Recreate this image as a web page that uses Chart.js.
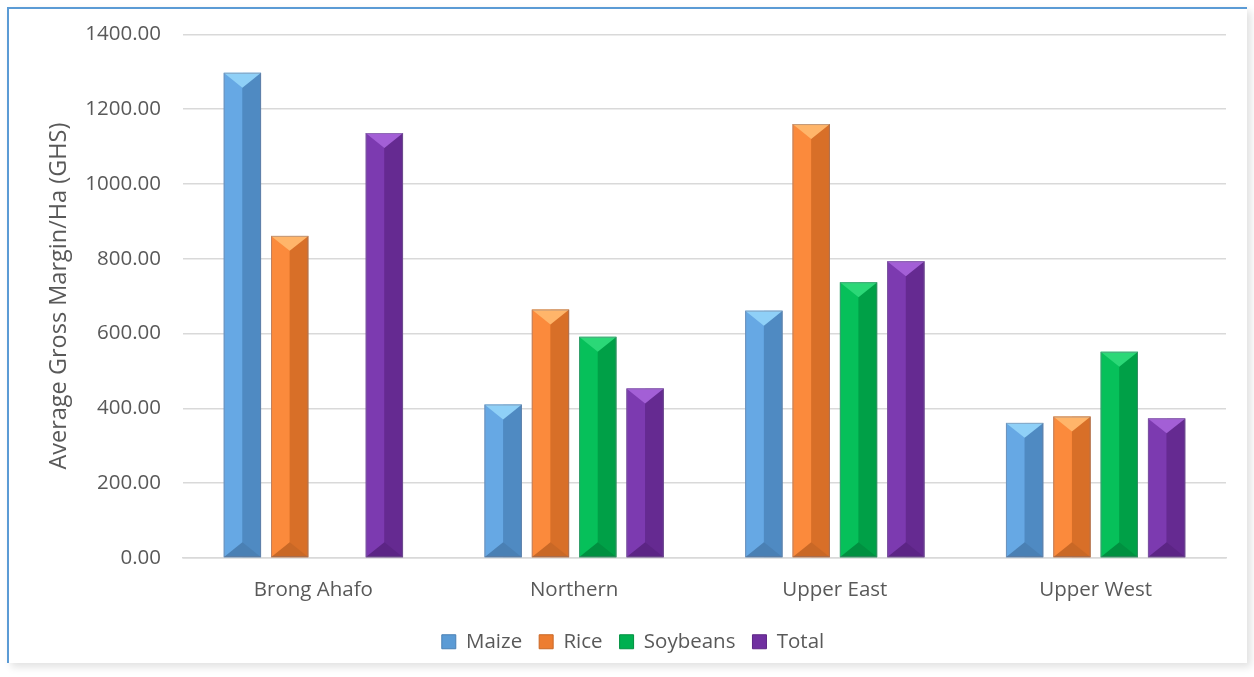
<!DOCTYPE html>
<html>
<head>
<meta charset="utf-8">
<script src="https://cdn.jsdelivr.net/npm/chart.js@4.4.1/dist/chart.umd.min.js"></script>
<style>
html,body{margin:0;padding:0;background:#fff;}
#frame{position:absolute;left:7px;top:7px;width:1238px;height:654px;border-left:2px solid #5B9BD5;border-top:2px solid #5B9BD5;box-shadow:4px 4px 8px rgba(0,0,0,0.12);background:#fff;}
#wrap{position:absolute;left:0;top:0;width:1254px;height:677px;}
</style>
</head>
<body>
<div id="frame"></div>
<div id="wrap"><canvas id="chartG"></canvas></div>
<script>
var regions = ["Brong Ahafo", "Northern", "Upper East", "Upper West"];
var maize = [1297, 410, 661, 361];
var rice = [861, 664, 1160, 378];
var soybeans = [null, 591, 737, 551];
var total = [1136, 453, 793, 373];

// base / light / dark / top-light / bottom-dark
var shades = {
  Maize:    ['#5B9BD5', '#66a8e4', '#4f8ac2', '#8fd0f7', '#4a80b4'],
  Rice:     ['#ED7D31', '#fb8a3c', '#d86f28', '#ffb56a', '#c96826'],
  Soybeans: ['#00B050', '#06c05a', '#00a047', '#2bd877', '#009040'],
  Total:    ['#7030A0', '#7c3ab0', '#652a91', '#a35fd6', '#5c2585']
};

// fake Excel bevel on the bars
var bevel = {
  id: 'bevel',
  afterDatasetsDraw: function(chart) {
    var ctx = chart.ctx;
    chart.data.datasets.forEach(function(ds, i) {
      var meta = chart.getDatasetMeta(i);
      if (meta.hidden) return;
      var c = shades[ds.label];
      meta.data.forEach(function(bar, j) {
        if (ds.data[j] == null) return;
        var w = bar.width, x0 = bar.x - w / 2, x1 = bar.x + w / 2;
        var top = bar.y, bot = bar.base;
        var t = Math.min(w / 2, (bot - top) / 2);
        ctx.save();
        ctx.fillStyle = c[1];
        ctx.fillRect(x0, top, w / 2, bot - top);
        ctx.fillStyle = c[2];
        ctx.fillRect(bar.x, top, w / 2, bot - top);
        ctx.fillStyle = c[3];
        ctx.beginPath();
        ctx.moveTo(x0, top); ctx.lineTo(x1, top); ctx.lineTo(bar.x, top + t * 0.8); ctx.closePath();
        ctx.fill();
        ctx.fillStyle = c[4];
        ctx.beginPath();
        ctx.moveTo(x0, bot); ctx.lineTo(x1, bot); ctx.lineTo(bar.x, bot - t * 0.8); ctx.closePath();
        ctx.fill();
        ctx.strokeStyle = 'rgba(120,120,140,0.45)';
        ctx.lineWidth = 1;
        ctx.strokeRect(x0 + 0.5, top + 0.5, w - 1, bot - top - 1);
        ctx.restore();
      });
    });
  }
};

var font = "'Open Sans', sans-serif";
var ctx = document.getElementById("chartG");
var chartG = new Chart(ctx, {
  type: "bar",
  data: {
    labels: regions,
    datasets: [
      { label: "Maize", data: maize, backgroundColor: shades.Maize[0], borderColor: shades.Maize[4], borderWidth: 1 },
      { label: "Rice", data: rice, backgroundColor: shades.Rice[0], borderColor: shades.Rice[4], borderWidth: 1 },
      { label: "Soybeans", data: soybeans, backgroundColor: shades.Soybeans[0], borderColor: shades.Soybeans[4], borderWidth: 1 },
      { label: "Total", data: total, backgroundColor: shades.Total[0], borderColor: shades.Total[4], borderWidth: 1 }
    ]
  },
  options: {
    responsive: true,
    maintainAspectRatio: false,
    animation: false,
    categoryPercentage: 0.726,
    barPercentage: 0.79,
    layout: { padding: { left: 40, right: 28, top: 34, bottom: 15 } },
    plugins: {
      legend: {
        position: 'bottom',
        labels: {
          font: { family: font, size: 20.5 },
          color: '#595959',
          boxWidth: 14,
          boxHeight: 14,
          padding: 17
        }
      },
      tooltip: { enabled: false }
    },
    scales: {
      x: {
        grid: { display: false },
        border: { color: '#d9d9d9', width: 1.5 },
        ticks: { font: { family: font, size: 20.5 }, color: '#595959', padding: 12 }
      },
      y: {
        min: 0,
        max: 1400,
        afterFit: function(s) { s.width = 143; },
        grid: { color: '#d9d9d9', lineWidth: 1.5, drawTicks: false },
        border: { display: false },
        ticks: {
          stepSize: 200,
          padding: 22,
          font: { family: font, size: 20.5 },
          color: '#595959',
          callback: function(v) { return v.toFixed(2); }
        },
        title: {
          display: true,
          text: 'Average Gross Margin/Ha (GHS)',
          font: { family: font, size: 23.5 },
          color: '#595959',
          padding: { top: 5, bottom: 0 }
        }
      }
    }
  },
  plugins: [bevel]
});
</script>
</body>
</html>
